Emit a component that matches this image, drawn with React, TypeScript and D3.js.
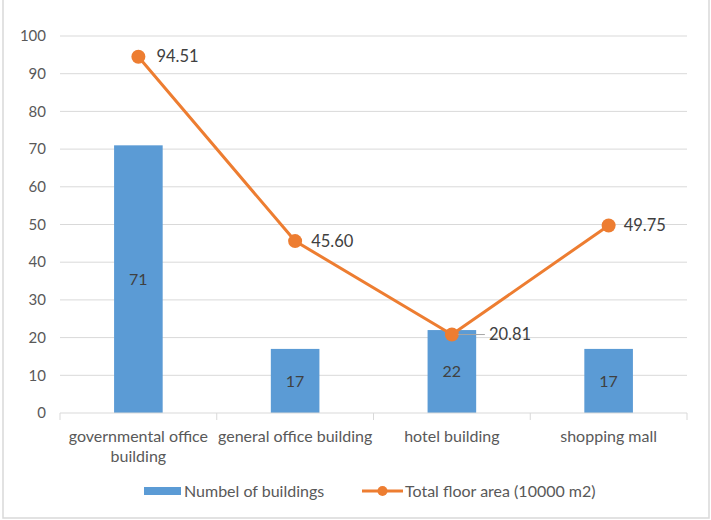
import React, { useEffect, useRef } from 'react'
import * as d3 from 'd3'

const categories = ['governmental office building', 'general office building', 'hotel building', 'shopping mall']
const buildingCounts = [71, 17, 22, 17]
const floorArea = [94.51, 45.6, 20.81, 49.75]
const yTicks = [0, 10, 20, 30, 40, 50, 60, 70, 80, 90, 100]
const seriesNames = ['Numbel of buildings', 'Total floor area (10000 m2)']

const W = 711
const H = 520
const FONT = 'Lato, "Open Sans", sans-serif'
const BLUE = '#5b9bd5'
const ORANGE = '#ed7d31'

// split long category names onto several lines, 20px apart
function wrap(sel: d3.Selection<any, any, any, any>, width: number) {
  sel.each(function () {
    const text = d3.select(this)
    const words = text.text().split(/\s+/)
    const y = +text.attr('y')
    text.text(null).attr('dy', null)
    let line: string[] = []
    let lineNo = 0
    let tspan = text.append('tspan').attr('x', 0).attr('y', y).attr('dy', '0.35em')
    words.forEach(w => {
      line.push(w)
      tspan.text(line.join(' '))
      if ((tspan.node() as SVGTSpanElement).getComputedTextLength() > width && line.length > 1) {
        line.pop()
        tspan.text(line.join(' '))
        line = [w]
        lineNo++
        tspan = text.append('tspan').attr('x', 0).attr('y', y + lineNo * 20).attr('dy', '0.35em').text(w)
      }
    })
  })
}

const App: React.FC = () => {
  const svgRef = useRef<SVGSVGElement>(null)

  useEffect(() => {
    const svg = d3.select(svgRef.current)
    svg.selectAll('*').remove()

    const margin = { top: 36, right: 24, bottom: 107, left: 60 }
    const width = W - margin.left - margin.right
    const height = H - margin.top - margin.bottom

    // outer frame (top edge sits above the visible area)
    svg.append('rect')
      .attr('x', 3).attr('y', -10)
      .attr('width', 706).attr('height', 528)
      .attr('fill', '#fff')
      .attr('stroke', '#d9d9d9').attr('stroke-width', 1.5)

    const x = d3.scaleBand<string>().domain(categories).range([0, width]).paddingInner(0.69).paddingOuter(0.345)
    const xOuter = d3.scaleBand<string>().domain(categories).range([0, width])
    const y = d3.scaleLinear().domain([0, 100]).range([height, 0])

    const g = svg.append('g').attr('transform', `translate(${margin.left},${margin.top})`)

    // gridlines
    g.append('g')
      .selectAll('line')
      .data(yTicks.filter(t => t > 0))
      .enter().append('line')
      .attr('x1', 0).attr('x2', width)
      .attr('y1', d => y(d)).attr('y2', d => y(d))
      .attr('stroke', '#d9d9d9').attr('stroke-width', 1)

    // y labels
    g.append('g')
      .selectAll('text')
      .data(yTicks)
      .enter().append('text')
      .attr('x', -14)
      .attr('y', d => y(d))
      .attr('dy', '0.35em')
      .attr('text-anchor', 'end')
      .attr('font-family', FONT).attr('font-size', 15)
      .attr('fill', '#595959')
      .text(d => d)

    // bars
    g.selectAll('.bar')
      .data(buildingCounts)
      .enter().append('rect')
      .attr('class', 'bar')
      .attr('x', (d, i) => x(categories[i])!)
      .attr('y', d => y(d))
      .attr('width', x.bandwidth())
      .attr('height', d => height - y(d))
      .attr('fill', BLUE)

    g.selectAll('.bar-label')
      .data(buildingCounts)
      .enter().append('text')
      .attr('x', (d, i) => x(categories[i])! + x.bandwidth() / 2)
      .attr('y', d => (y(d) + height) / 2)
      .attr('dy', '0.35em')
      .attr('text-anchor', 'middle')
      .attr('font-family', FONT).attr('font-size', 16)
      .attr('fill', '#404040')
      .text(d => d)

    // x axis
    const xAxis = g.append('g')
      .attr('transform', `translate(0,${height})`)
      .call(d3.axisBottom(xOuter).tickSize(0).tickPadding(23))
    xAxis.select('.domain').remove()
    xAxis.append('line')
      .attr('x1', 0).attr('x2', width)
      .attr('stroke', '#d9d9d9').attr('stroke-width', 1)
    xAxis.selectAll('.sep')
      .data(d3.range(categories.length + 1))
      .enter().append('line')
      .attr('x1', i => i * xOuter.step()).attr('x2', i => i * xOuter.step())
      .attr('y1', 0).attr('y2', 7)
      .attr('stroke', '#d9d9d9')
    xAxis.selectAll('.tick text')
      .attr('font-family', FONT).attr('font-size', 16)
      .attr('fill', '#595959')
      .call(wrap as any, 166)

    // line series
    const px = (i: number) => xOuter(categories[i])! + xOuter.bandwidth() / 2
    const line = d3.line<number>()
      .x((d, i) => px(i))
      .y(d => y(d))

    g.append('path')
      .datum(floorArea)
      .attr('fill', 'none')
      .attr('stroke', ORANGE)
      .attr('stroke-width', 3)
      .attr('d', line)

    g.selectAll('.dot')
      .data(floorArea)
      .enter().append('circle')
      .attr('class', 'dot')
      .attr('cx', (d, i) => px(i))
      .attr('cy', d => y(d))
      .attr('r', 7)
      .attr('fill', ORANGE)

    const labelOffset = [18, 16, 37, 15]
    // leader line for the hotel label
    g.append('line')
      .attr('x1', px(2) + 6).attr('x2', px(2) + labelOffset[2] - 4)
      .attr('y1', y(floorArea[2])).attr('y2', y(floorArea[2]))
      .attr('stroke', '#a6a6a6').attr('stroke-width', 1)

    g.selectAll('.line-label')
      .data(floorArea)
      .enter().append('text')
      .attr('x', (d, i) => px(i) + labelOffset[i])
      .attr('y', d => y(d))
      .attr('dy', '0.35em')
      .attr('font-family', FONT).attr('font-size', 16.5)
      .attr('fill', '#404040')
      .text(d => d.toFixed(2))

    // legend
    const lg = svg.append('g').attr('transform', 'translate(0,491)')
    lg.append('rect')
      .attr('x', 144).attr('y', -4)
      .attr('width', 37).attr('height', 8)
      .attr('fill', BLUE)
    lg.append('text')
      .attr('x', 184).attr('y', 0).attr('dy', '0.35em')
      .attr('font-family', FONT).attr('font-size', 16)
      .attr('fill', '#595959')
      .text(seriesNames[0])
    lg.append('line')
      .attr('x1', 362).attr('x2', 403)
      .attr('stroke', ORANGE).attr('stroke-width', 3)
    lg.append('circle')
      .attr('cx', 382.5).attr('r', 5)
      .attr('fill', ORANGE)
    lg.append('text')
      .attr('x', 405).attr('y', 0).attr('dy', '0.35em')
      .attr('font-family', FONT).attr('font-size', 16)
      .attr('fill', '#595959')
      .text(seriesNames[1])
  }, [])

  return (
    <svg ref={svgRef} width={W} height={H} style={{ position: 'absolute', left: 0, top: 0, background: '#fff' }} />
  )
}

export default App
